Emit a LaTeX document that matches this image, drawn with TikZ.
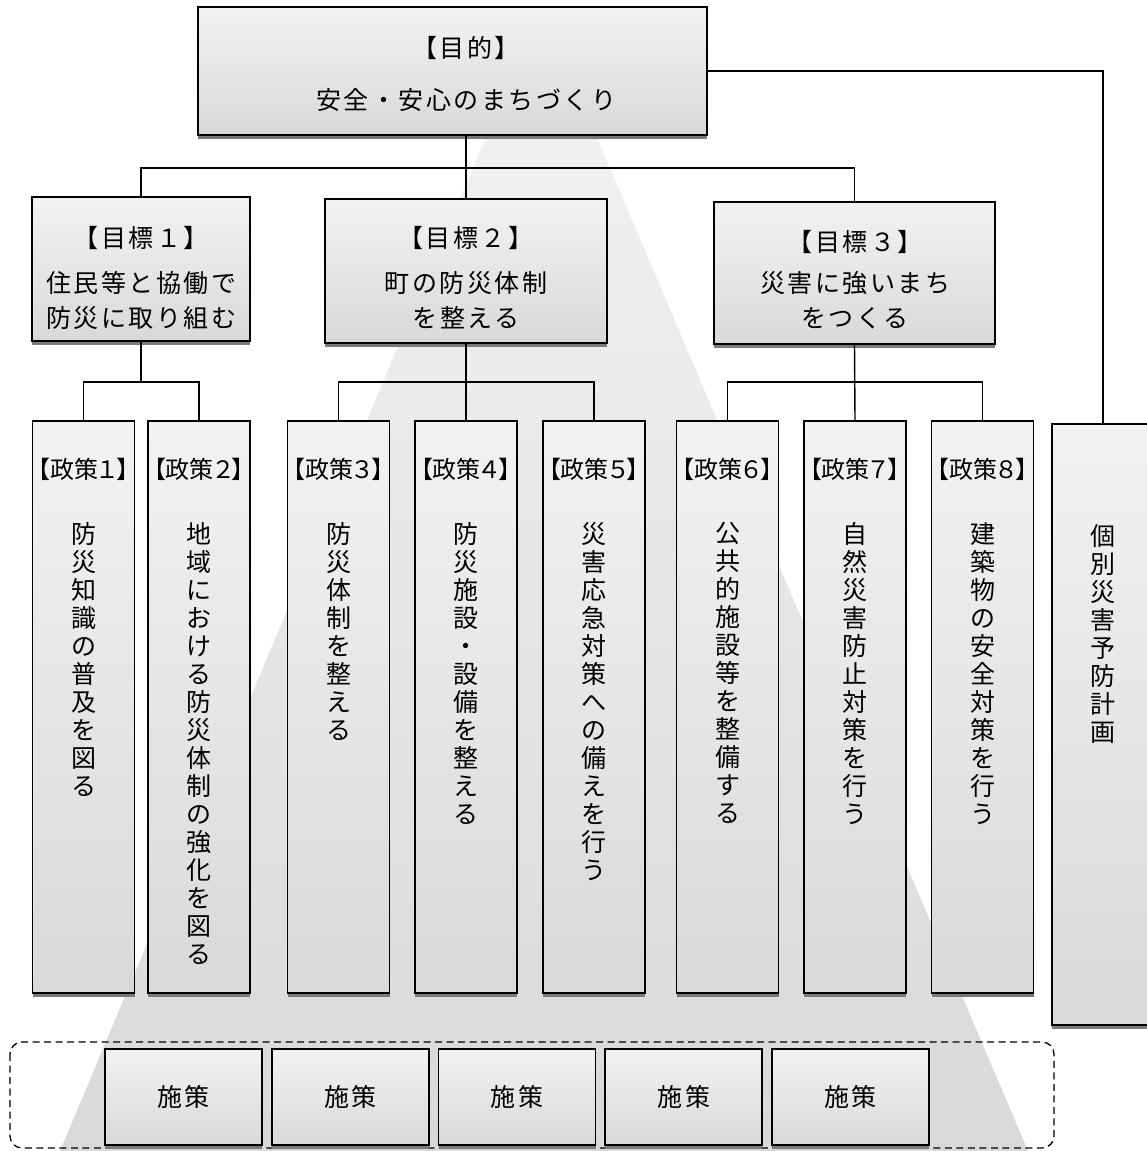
\documentclass[tikz,border=0pt]{standalone}
\usepackage{fontspec}
\setmainfont{Noto Sans CJK JP}
\newfontfamily\jls[LetterSpace=10]{Noto Sans CJK JP}
\newfontfamily\jpal[RawFeature={+palt}]{Noto Sans CJK JP}
\usetikzlibrary{shadows}
\tikzset{
  box/.style={draw=black, line width=1.8pt, top color=gray!10, bottom color=gray!30,
    inner sep=0pt, drop shadow={shadow xshift=0pt, shadow yshift=-4pt, fill=black!52, opacity=1}},
  polbox/.style={box, minimum width=102pt, minimum height=572pt},
  goalbox/.style={box, minimum height=144pt},
  measbox/.style={box, minimum width=157pt, minimum height=96pt},
  wire/.style={line width=1.4pt, draw=black},
  htext/.style={font=\jls\fontsize{25pt}{35pt}\selectfont, align=center, inner sep=0pt},
  vtext/.style={font=\fontsize{25pt}{28pt}\selectfont, align=center, inner sep=0pt, anchor=north},
  tagtext/.style={font=\jpal\fontsize{24pt}{24pt}\selectfont, inner sep=0pt},
  frame/.style={draw=black, line width=1.3pt, dash pattern=on 7pt off 4.5pt, rounded corners=12pt}
}
\begin{document}
\begin{tikzpicture}[x=1pt,y=-1pt]
\useasboundingbox (0,0) rectangle (1147,1151);
\clip (0,0) rectangle (1147,1151);
% background pyramid
\shade[top color=gray!9, bottom color=gray!30] (541,6) -- (60,1151) -- (1028,1151) -- cycle;

% purpose box
\node[box, minimum width=509pt, minimum height=128pt] (top) at (452.5,71) {};
\node[htext, anchor=north] (topt) at (466,36.5) {【目的】\\[17pt]安全・安心のまちづくり};

% goal boxes
\node[goalbox, minimum width=218pt] (g1) at (141,269) {};
\node[goalbox, minimum width=282pt] (g2) at (466,271) {};
\node[goalbox, minimum width=281pt, minimum height=142pt] (g3) at (854.5,273) {};
\node[htext, anchor=north] (g1t) at (141,226) {【目標１】\\[10pt]住民等と協働で\\防災に取り組む};
\node[htext, anchor=north] (g2t) at (466,226) {【目標２】\\[10pt]町の防災体制\\を整える};
\node[htext, anchor=north] (g3t) at (855,230) {【目標３】\\[6pt]災害に強いまち\\をつくる};

% policy boxes
\node[polbox] (p1) at (83.5,707) {};
\node[polbox] (p2) at (199,707) {};
\node[polbox] (p3) at (338.5,707) {};
\node[polbox] (p4) at (466,707) {};
\node[polbox] (p5) at (594,707) {};
\node[polbox] (p6) at (727.5,707) {};
\node[polbox] (p7) at (855,707) {};
\node[polbox] (p8) at (982.5,707) {};
\node[box, minimum width=102pt, minimum height=601pt] (ind) at (1103,724.5) {};

\foreach \n/\k in {p1/１,p2/２,p3/３,p4/４,p5/５,p6/６,p7/７,p8/８}{
  \node[tagtext] (\n tag) at ([yshift=-49pt]\n.north) {【政策\k】};
}

\node[vtext] (p1t) at (83.5,522) {防\\災\\知\\識\\の\\普\\及\\を\\図\\る};
\node[vtext] (p2t) at (199,522) {地\\域\\に\\お\\け\\る\\防\\災\\体\\制\\の\\強\\化\\を\\図\\る};
\node[vtext] (p3t) at (338.5,522) {防\\災\\体\\制\\を\\整\\え\\る};
\node[vtext] (p4t) at (466,522) {防\\災\\施\\設\\・\\設\\備\\を\\整\\え\\る};
\node[vtext] (p5t) at (594,522) {災\\害\\応\\急\\対\\策\\へ\\の\\備\\え\\を\\行\\う};
\node[vtext] (p6t) at (727.5,522) {公\\共\\的\\施\\設\\等\\を\\整\\備\\す\\る};
\node[vtext] (p7t) at (855,522) {自\\然\\災\\害\\防\\止\\対\\策\\を\\行\\う};
\node[vtext] (p8t) at (982.5,522) {建\\築\\物\\の\\安\\全\\対\\策\\を\\行\\う};
\node[vtext] (indt) at (1103,524) {個\\別\\災\\害\\予\\防\\計\\画};

% measures
\draw[frame] (10,1042) rectangle (1054,1148);
\node[measbox] (m1) at (183.5,1097) {};
\node[measbox] (m2) at (350.25,1097) {};
\node[measbox] (m3) at (517,1097) {};
\node[measbox] (m4) at (683.75,1097) {};
\node[measbox] (m5) at (850.5,1097) {};
\foreach \m in {m1,m2,m3,m4,m5}{
  \node[htext] (\m t) at (\m) {施策};
}

% connectors
\coordinate (bus0) at (466,168);
\coordinate (b1) at (141,382);
\coordinate (b2) at (466,382);
\coordinate (b3) at (855,382);
\draw[wire] (top.south -| g2.north) -- (g2.north);
\draw[wire] (g1.north) |- (bus0) -| (g3.north);
\draw[wire] (g1.south) -- (b1);
\draw[wire] (p1.north) |- (b1) -| (p2.north);
\draw[wire] (g2.south) -- (p4.north);
\draw[wire] (p3.north) |- (b2) -| (p5.north);
\draw[wire] (g3.south) -- (p7.north);
\draw[wire] (p6.north) |- (b3) -| (p8.north);
\draw[wire] (top.east) -| (ind.north);
\end{tikzpicture}
\end{document}
